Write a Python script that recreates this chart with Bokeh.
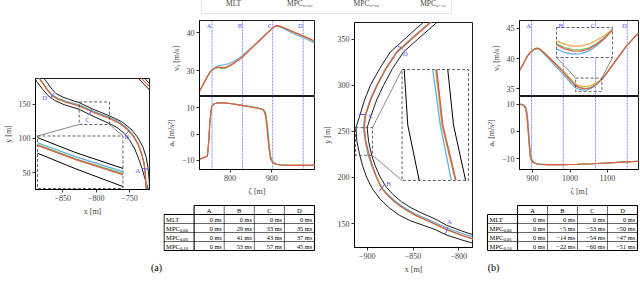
from bokeh.plotting import figure
from bokeh.layouts import row, column
from bokeh.models import Range1d, FixedTicker, Legend, LegendItem, Span
from bokeh.embed import file_html
from bokeh.resources import INLINE
from bokeh.core.properties import value

FONT = "Liberation Serif"
C_MLT, C_000, C_006, C_010 = "#5dade2", "#f5a442", "#5cc25c", "#e8574a"
COLORS = [C_MLT, C_000, C_006, C_010]
SERIES = ["MLT", "MPC₀.₀₀", "MPC₀.₀₆", "MPC₀.₁₀"]
MARK_C = "#5a5aff"
DASH_C = "#3a3a3a"
LETTERS = ["A", "B", "C", "D"]

# ---------------- panel (a): track (x, y in m) ----------------
UPPER1_X = [-882, -873, -866, -860, -851, -840, -825.5, -805, -780, -762, -748, -738, -730, -725, -722, -720.5, -719.5]
UPPER1_Y = [192, 180.5, 171, 165, 160.5, 156.5, 152, 142.6, 132.8, 124.5, 114, 102, 88, 73, 56, 40, 20]
LOWER1_X = [-896, -888, -880, -872, -862, -848, -825.5, -805, -780, -768, -758, -749, -742, -736, -731, -727, -723, -720]
LOWER1_Y = [192, 181, 171, 162, 155, 149, 142.3, 132.5, 121.5, 115.5, 107.5, 96.5, 84.5, 70, 56, 42, 30, 20]
RACE1_X = [-889, -880, -873, -866, -857, -845, -825.5, -805, -780, -765, -753, -744, -737, -732, -728, -726, -725]
RACE1_Y_MLT = [192, 180.8, 171, 163.2, 158.3, 154, 148.8, 140.0, 130.8, 123.6, 114.4, 104.3, 92.1, 78.8, 63.4, 45.2, 20]
RACE1_Y_000 = [192, 180.1, 170.1, 162.1, 157.1, 152.7, 147.4, 138.5, 129.2, 122.2, 113.2, 103.2, 91.2, 78.1, 63.1, 45, 20]
RACE1_Y_006 = [192, 180.1, 170.1, 162.1, 157.2, 152.8, 147.6, 138.6, 129.5, 122.3, 113.3, 103.2, 91.2, 78.1, 63.1, 45, 20]
RACE1_Y_010 = [192, 180, 170, 162, 157, 152.5, 147.1, 138.3, 129.0, 122, 113, 103, 91, 78, 63, 45, 20]
CORNER1_X = [[-740, -716], [-735.3, -711.3], [-730.6, -706.6]]
CORNER1_Y = [[190.4, 166.4], [190.4, 166.4], [190.4, 166.4]]
MARK1_X0 = [-731, -756, -810, -868.5]
MARK1_Y0 = [56.5, 106, 134.5, 158.5]
MARK1_X1 = [-722, -749, -806.5, -863.5]
MARK1_Y1 = [55.5, 113, 144, 165.5]
LBL1_X = [-737.5, -754, -812.7, -877]
LBL1_Y = [53.5, 102, 127.4, 158.6]

# ---------------- middle panel: track ----------------
OUTER3_X = [-825.5, -839, -857, -874.9, -886.5, -896.6, -903, -908.2, -912.4, -911.4, -908.2, -905, -900.5, -894, -886, -876, -865, -853, -840, -826, -813, -797, -782, -775]
OUTER3_Y = [380, 368, 352, 336, 318, 300, 284, 267, 254, 239, 224, 212, 199.5, 187, 176.5, 167, 159, 153, 148.5, 143.5, 137.4, 132.3, 128, 125.5]
INNER3_X = [-810.3, -824, -842.5, -860.4, -872.5, -882.2, -889.8, -895.9, -900.2, -898.6, -895.2, -891.5, -886.5, -880, -872, -862.5, -852, -841, -827, -813, -797, -782, -775]
INNER3_Y = [380, 368, 352, 336, 318, 300, 284, 267, 254, 239, 224, 213, 201.5, 190.5, 181.5, 173.5, 167, 161.5, 155.5, 148, 142, 137, 134.5]
RACE3_X_MLT = [-817.9, -831.6, -850.1, -868.2, -880.1, -889.9, -897.1, -902.7, -904.4, -902.3, -899.2, -895.3, -890.3, -884.2, -876.2, -867.1, -856.6, -845.7, -829.8, -812.9, -796.9, -782, -775]
RACE3_Y_MLT = [380, 368, 352, 336, 318, 300, 284, 267, 254, 239, 224, 213, 200.5, 188.9, 180.1, 172.3, 165.4, 159.6, 152.8, 145.1, 139.4, 134.8, 132.3]
RACE3_X_000 = [-817.2, -830.9, -849.4, -867.5, -879.4, -889.2, -896.5, -902.2, -903.6, -901.8, -898.1, -894.7, -890.1, -884.4, -876.6, -867.6, -857.1, -846.1, -830.1, -813.1, -797.1, -782.1, -775.1]
RACE3_Y_000 = [380, 368, 352, 336, 318, 300, 284, 267, 254, 239, 224, 213, 200.5, 188.4, 179.3, 171.3, 164.3, 158.2, 151.2, 143.2, 137.2, 132.2, 129.7]
RACE3_X_006 = [-817.25, -830.95, -849.45, -867.55, -879.45, -889.25, -896.5, -902.1, -903.45, -901.7, -898.0, -894.65, -890.05, -884.35, -876.55, -867.55, -857.05, -846.05, -830.05, -813.05, -797.05, -782.05, -775.05]
RACE3_Y_006 = [380, 368, 352, 336, 318, 300, 284, 267, 254, 239, 224, 213, 200.5, 188.45, 179.4, 171.4, 164.4, 158.35, 151.35, 143.35, 137.35, 132.35, 129.85]
RACE3_X_010 = [-817.3, -831, -849.5, -867.6, -879.5, -889.3, -896.5, -902, -903.3, -901.6, -897.9, -894.6, -890, -884.3, -876.5, -867.5, -857, -846, -830, -813, -797, -782, -775]
RACE3_Y_010 = [380, 368, 352, 336, 318, 300, 284, 267, 254, 239, 224, 213, 200.5, 188.5, 179.5, 171.5, 164.5, 158.5, 151.5, 143.5, 137.5, 132.5, 130]
MARK3_X0 = [-814.5, -887, -909.3, -867.6]
MARK3_Y0 = [139, 185, 268.3, 343.4]
MARK3_X1 = [-812, -881.5, -902, -861]
MARK3_Y1 = [146, 192, 268.3, 339]
LBL3_X = [-810, -876.7, -896, -858.6]
LBL3_Y = [151.5, 192.7, 267, 334.3]

# ---------------- panel (a): speed / lateral acceleration over zeta ----------------
ZETA_A_VX = [727, 735, 745, 752, 758, 765, 772, 780, 788, 796, 805, 815, 828, 845, 860, 875, 890, 900, 907, 913, 925, 940, 955, 970, 985, 1002]
VX_A_MLT = [24.6, 26.2, 28.3, 29.6, 30.3, 30.9, 31.3, 31.5, 31.6, 31.8, 32.2, 32.8, 33.8, 35.5, 37.0, 38.5, 40.0, 41.0, 41.6, 41.7, 41.2, 40.4, 39.6, 38.9, 38.2, 37.3]
VX_A_000 = [24.6, 26.2, 28.3, 29.6, 30.3, 30.8, 31.0, 30.9, 30.9, 31.3, 31.8, 32.5, 33.5, 35.3, 36.9, 38.5, 40.0, 41.1, 41.7, 41.9, 41.5, 40.8, 40.1, 39.4, 38.7, 37.8]
VX_A_006 = [24.6, 26.2, 28.3, 29.6, 30.3, 30.7, 30.8, 30.6, 30.6, 31.0, 31.6, 32.4, 33.4, 35.2, 36.8, 38.4, 40.0, 41.05, 41.65, 41.85, 41.45, 40.7, 40.0, 39.3, 38.6, 37.7]
VX_A_010 = [24.6, 26.2, 28.3, 29.6, 30.3, 30.7, 30.9, 30.75, 30.75, 31.1, 31.6, 32.4, 33.4, 35.2, 36.8, 38.4, 40.0, 41.05, 41.65, 41.85, 41.45, 40.75, 40.05, 39.35, 38.65, 37.75]
ZETA_A_AY = [727, 735, 742, 746, 749, 752, 756, 762, 770, 780, 800, 828, 850, 870, 880, 885, 889, 893, 897, 902, 910, 920, 940, 970, 1002]
AY_A_MLT = [-9.7, -9.2, -8.7, -8.3, -3.0, 5.0, 10.5, 11.6, 11.9, 12.0, 11.7, 11.1, 10.5, 9.9, 9.4, 8.2, 4.0, -3.0, -8.5, -10.6, -11.5, -11.8, -12.0, -12.0, -12.0]
AY_A_000 = [-9.7, -9.2, -8.7, -8.3, -3.0, 5.0, 10.5, 11.6, 11.9, 12.0, 11.7, 11.0, 10.4, 9.8, 9.2, 7.0, 1.5, -5.5, -9.6, -10.9, -11.6, -11.9, -12.0, -12.0, -12.0]
AY_A_006 = [-9.7, -9.2, -8.7, -8.3, -3.0, 5.0, 10.5, 11.6, 11.9, 12.0, 11.7, 11.05, 10.45, 9.85, 9.3, 7.8, 3.0, -4.0, -9.0, -10.8, -11.5, -11.8, -12.0, -12.0, -12.0]
AY_A_010 = [-9.7, -9.2, -8.7, -8.3, -3.0, 5.0, 10.5, 11.6, 11.9, 12.0, 11.7, 11.0, 10.4, 9.8, 9.2, 7.2, 1.8, -5.2, -9.5, -10.9, -11.6, -11.9, -12.0, -12.0, -12.0]
MARKS_A = [757, 830, 902, 975]

# ---------------- panel (b) ----------------
ZETA_B_VX = [865, 875, 885, 895, 905, 912, 920, 935, 950, 965, 980, 995, 1005, 1015, 1025, 1035, 1045, 1055, 1065, 1075, 1085, 1095, 1110, 1130, 1150, 1170, 1183]
VX_B_MLT = [38.0, 39.1, 40.3, 41.1, 41.5, 41.6, 41.4, 40.5, 39.5, 38.5, 37.5, 36.4, 35.7, 35.15, 34.88, 34.76, 34.78, 34.98, 35.37, 35.9, 36.55, 37.3, 38.6, 40.3, 42.0, 43.4, 44.2]
VX_B_000 = [38.0, 39.1, 40.3, 41.1, 41.6, 41.8, 41.6, 40.8, 39.9, 39.0, 38.1, 37.1, 36.4, 35.75, 35.5, 35.35, 35.35, 35.5, 35.8, 36.15, 36.6, 37.35, 38.6, 40.3, 42.0, 43.4, 44.2]
VX_B_006 = [38.0, 39.1, 40.3, 41.1, 41.55, 41.7, 41.5, 40.7, 39.8, 38.85, 37.9, 36.9, 36.2, 35.55, 35.25, 35.1, 35.08, 35.2, 35.55, 36.0, 36.58, 37.33, 38.6, 40.3, 42.0, 43.4, 44.2]
VX_B_010 = [38.0, 39.1, 40.3, 41.1, 41.55, 41.7, 41.5, 40.65, 39.75, 38.8, 37.85, 36.8, 36.1, 35.45, 35.15, 35.0, 34.98, 35.12, 35.48, 35.95, 36.57, 37.32, 38.6, 40.3, 42.0, 43.4, 44.2]
ZETA_B_AY = [865, 872, 878, 882, 885, 888, 891, 894, 898, 905, 915, 940, 980, 1020, 1060, 1100, 1140, 1183]
AY_B_MLT = [10.0, 9.9, 9.6, 9.0, 7.2, 3.5, -2.5, -7.5, -10.3, -11.4, -11.9, -12.1, -12.1, -12.0, -11.8, -11.5, -11.2, -10.9]
AY_B_000 = [10.0, 9.8, 9.3, 8.0, 5.0, 0.0, -5.5, -9.5, -11.0, -11.6, -12.0, -12.1, -12.1, -12.0, -11.8, -11.5, -11.2, -10.9]
AY_B_006 = [10.0, 9.85, 9.45, 8.5, 6.0, 1.5, -4.0, -8.5, -10.7, -11.5, -11.95, -12.1, -12.1, -12.0, -11.8, -11.5, -11.2, -10.9]
AY_B_010 = [10.0, 9.8, 9.35, 8.2, 5.4, 0.6, -5.0, -9.2, -10.9, -11.55, -12.0, -12.1, -12.1, -12.0, -11.8, -11.5, -11.2, -10.9]
MARKS_B = [897, 982, 1068, 1153]

# ---------------- tables (delay in ms) ----------------
ROW_NAMES = ["MLT", "MPC", "MPC", "MPC"]
ROW_SUBS = ["", "0.00", "0.06", "0.10"]
DELAY_A = [[0, 0, 0, 0], [0, 29, 33, 35], [0, 41, 43, 37], [0, 53, 57, 45]]
DELAY_B = [[0, 0, 0, 0], [0, -5, -53, -50], [0, -14, -54, -47], [0, -22, -60, -51]]

# ticks
XT1, YT1 = [-850, -800, -750], [50, 100, 150]
XT3, YT3 = [-900, -850, -800], [150, 200, 250, 300, 350]
XT_A, VT_A, AT = [800, 900], [30, 40], [-10, 0, 10]
XT_B, VT_B = [900, 1000, 1100], [35, 40, 45]


def fmt(v):
    return ("−" + str(abs(v))) if v < 0 else str(v)


def base_fig(w, h, xr, yr, bl, br, bt, bb, xaxis=True):
    p = figure(width=w, height=h, x_range=Range1d(*xr), y_range=Range1d(*yr),
               output_backend="svg", toolbar_location=None,
               min_border_left=bl, min_border_right=br, min_border_top=bt, min_border_bottom=bb,
               x_axis_location="below" if xaxis else None, y_axis_location="left")
    p.outline_line_color = "black"
    p.outline_line_width = 0.9
    p.outline_line_alpha = 1.0
    p.grid.visible = False
    p.background_fill_color = "white"
    p.border_fill_color = "white"
    for ax in p.axis:
        ax.axis_line_color = "black"
        ax.axis_line_width = 0.9
        ax.major_tick_in = 0
        ax.major_tick_out = 3
        ax.major_tick_line_width = 0.8
        ax.minor_tick_line_color = None
        ax.major_label_text_font = FONT
        ax.major_label_text_font_size = "8px"
        ax.major_label_standoff = 2
        ax.axis_label_text_font = FONT
        ax.axis_label_text_font_size = "8px"
        ax.axis_label_text_font_style = "normal"
        ax.axis_label_standoff = 3
    return p


def set_ticks(axis, ticks):
    axis.ticker = FixedTicker(ticks=ticks)
    axis.major_label_overrides = {t: fmt(t) for t in ticks}


def blank_fig(w, h, xr=(0, 1), yr=(0, 1)):
    p = figure(width=w, height=h, x_range=Range1d(*xr), y_range=Range1d(*yr),
               x_axis_type=None, y_axis_type=None, min_border=0,
               output_backend="svg", toolbar_location=None)
    p.outline_line_color = None
    p.background_fill_color = "white"
    p.border_fill_color = "white"
    return p


def in_box(xs, ys, box):
    x0, x1, y0, y1 = box
    pts = [(a, b) for a, b in zip(xs, ys) if x0 - 1e-6 <= a <= x1 + 1e-6 and y0 - 1e-6 <= b <= y1 + 1e-6]
    return [q[0] for q in pts], [q[1] for q in pts]


def add_inset(p, box, frac, lines, connect):
    x0, x1, y0, y1 = box
    fx0, fx1, fy0, fy1 = frac
    wx = (x1 - x0) / (fx1 - fx0)
    sx = x0 - fx0 * wx
    wy = (y1 - y0) / (fy1 - fy0)
    sy = y0 - fy0 * wy
    p.extra_x_ranges = {"ins": Range1d(sx, sx + wx)}
    p.extra_y_ranges = {"ins": Range1d(sy, sy + wy)}
    p.quad(left=[x0], right=[x1], bottom=[y0], top=[y1], x_range_name="ins", y_range_name="ins",
           fill_color="white", line_color=DASH_C, line_dash="3 2", line_width=0.8)
    for xs, ys, col, lw in lines:
        bx, by = in_box(xs, ys, box)
        p.line(bx, by, x_range_name="ins", y_range_name="ins", color=col, line_width=lw)
    p.quad(left=[x0], right=[x1], bottom=[y0], top=[y1], fill_color=None,
           line_color=DASH_C, line_dash="3 2", line_width=0.8)
    X, Y = p.x_range, p.y_range
    ix0 = X.start + fx0 * (X.end - X.start)
    ix1 = X.start + fx1 * (X.end - X.start)
    iy0 = Y.start + fy0 * (Y.end - Y.start)
    iy1 = Y.start + fy1 * (Y.end - Y.start)
    bc = {"bl": (x0, y0), "br": (x1, y0), "tl": (x0, y1), "tr": (x1, y1)}
    ic = {"bl": (ix0, iy0), "br": (ix1, iy0), "tl": (ix0, iy1), "tr": (ix1, iy1)}
    for b, i in connect:
        p.segment(x0=[bc[b][0]], y0=[bc[b][1]], x1=[ic[i][0]], y1=[ic[i][1]],
                  line_color="#555555", line_width=0.7)


def text_glyphs(p, xs, ys, texts, align="center", size="7px", color=MARK_C, baseline="middle", **kw):
    p.text(x=xs, y=ys, text=texts, text_align=align, text_baseline=baseline,
           text_font=value(FONT), text_font_size=value(size), text_color=color, **kw)


def add_marks(p, marks):
    for m in marks:
        p.add_layout(Span(location=m, dimension="height", line_color=MARK_C, line_alpha=0.8,
                          line_width=0.9, line_dash="2 1", level="underlay"))


# ============ legend strip ============
pl = blank_fig(639, 18)
leg_r = [pl.line(x=[], y=[], color=c, line_width=1.2) for c in COLORS]
legend = Legend(items=[LegendItem(label=s, renderers=[r]) for s, r in zip(SERIES, leg_r)],
                orientation="horizontal", location=(201, 4), padding=5, spacing=22, margin=0,
                glyph_width=14, glyph_height=9, label_height=9, label_standoff=5,
                label_text_font=FONT, label_text_font_size="7.5px",
                border_line_color="#cccccc", border_line_width=1,
                background_fill_color="white", background_fill_alpha=1.0)
pl.add_layout(legend)

# ============ column 1: panel (a) track ============
p1 = base_fig(163, 200, (-891, -720), (26, 187), 29, 14, 60, 26)
set_ticks(p1.xaxis, XT1)
set_ticks(p1.yaxis, YT1)
p1.xaxis.axis_label = "x [m]"
p1.yaxis.axis_label = "y [m]"
p1.line(CORNER1_X[0], CORNER1_Y[0], color="black", line_width=0.9)
p1.line(CORNER1_X[1], CORNER1_Y[1], color=C_000, line_width=1.1)
p1.line(CORNER1_X[1], CORNER1_Y[1], color=C_010, line_width=1.0)
p1.line(CORNER1_X[2], CORNER1_Y[2], color="black", line_width=0.9)
p1.line(UPPER1_X, UPPER1_Y, color="black", line_width=0.9)
p1.line(LOWER1_X, LOWER1_Y, color="black", line_width=0.9)
race1 = [RACE1_Y_MLT, RACE1_Y_000, RACE1_Y_006, RACE1_Y_010]
for ys, c in zip(race1, COLORS):
    p1.line(RACE1_X, ys, color=c, line_width=1.1)
p1.segment(x0=MARK1_X0, y0=MARK1_Y0, x1=MARK1_X1, y1=MARK1_Y1, line_color=MARK_C, line_width=1)
text_glyphs(p1, LBL1_X, LBL1_Y, LETTERS)
lines1 = [(UPPER1_X, UPPER1_Y, "black", 1.0), (LOWER1_X, LOWER1_Y, "black", 1.0)] + \
         [(RACE1_X, ys, c, 1.3) for ys, c in zip(race1, COLORS)]
add_inset(p1, (-825.5, -780, 120.3, 153), (0.017, 0.767, 0.009, 0.482), lines1,
          [("bl", "tl"), ("br", "tr")])

lbl1 = blank_fig(163, 70, (0, 163), (0, 70))
lbl1.text(x=[156], y=[21], text=["(a)"], text_align="center", text_baseline="middle",
          text_font=value(FONT), text_font_size=value("10px"))

# ============ column 2: panel (a) vx / ay / table ============
pva = base_fig(156, 78, (727, 1002), (23.2, 43.2), 30, 5, 2, 0, xaxis=False)
set_ticks(pva.yaxis, VT_A)
pva.yaxis.axis_label = "vₓ [m/s]"
add_marks(pva, MARKS_A)
for ys, c in zip([VX_A_MLT, VX_A_000, VX_A_006, VX_A_010], COLORS):
    pva.line(ZETA_A_VX, ys, color=c, line_width=1.1)
text_glyphs(pva, MARKS_A, [pva.y_range.end] * len(MARKS_A), LETTERS, align="right",
            size="6.5px", baseline="top", x_offset=-0.5, y_offset=1)

pay = base_fig(156, 102, (727, 1002), (-13.6, 14.4), 30, 5, 0, 25)
set_ticks(pay.xaxis, XT_A)
set_ticks(pay.yaxis, AT)
pay.xaxis.axis_label = "ζ [m]"
pay.yaxis.axis_label = "aᵧ [m/s²]"
add_marks(pay, MARKS_A)
for ys, c in zip([AY_A_MLT, AY_A_000, AY_A_006, AY_A_010], COLORS):
    pay.line(ZETA_A_AY, ys, color=c, line_width=1.1)


def table_fig(w, h, xr, yr, delays):
    p = blank_fig(w, h, xr, yr)
    nr, nc = len(ROW_NAMES), len(LETTERS)
    hy = [-(i + 2) for i in range(nr - 1)]
    p.segment(x0=[-1] * len(hy), y0=hy, x1=[nc] * len(hy), y1=hy, line_color="black", line_width=0.6)
    vx = list(range(1, nc))
    p.segment(x0=vx, y0=[0] * len(vx), x1=vx, y1=[-(nr + 1)] * len(vx), line_color="black", line_width=0.6)
    p.segment(x0=[0, -1, -1, nc, -1, 0], y0=[0, -1, -(nr + 1), 0, -1, 0],
              x1=[nc, nc, nc, nc, -1, 0], y1=[0, -1, -(nr + 1), -(nr + 1), -(nr + 1), -(nr + 1)],
              line_color="black", line_width=1.1)
    p.text(x=[j + 0.5 for j in range(nc)], y=[-0.5] * nc, text=LETTERS, text_align="center",
           text_baseline="middle", text_font=value(FONT), text_font_size=value("6.5px"))
    ry = [-(i + 1.5) for i in range(nr)]
    p.text(x=[-0.93] * nr, y=ry, text=ROW_NAMES, text_align="left", text_baseline="middle",
           text_font=value(FONT), text_font_size=value("6.5px"))
    p.text(x=[-0.93] * nr, y=ry, text=ROW_SUBS, text_align="left", text_baseline="middle",
           x_offset=13.8, y_offset=2, text_font=value(FONT), text_font_size=value("4.6px"))
    xs, ys, ts = [], [], []
    for i, r in enumerate(delays):
        for j, v in enumerate(r):
            xs.append(j + 0.92)
            ys.append(-(i + 1.5))
            ts.append(fmt(v) + " ms")
    p.text(x=xs, y=ys, text=ts, text_align="right", text_baseline="middle",
           text_font=value(FONT), text_font_size=value("6.3px"))
    return p


tab_a = table_fig(156, 90, (-1.017, 4.166), (-9.222, 0.778), DELAY_A)

# ============ column 3: middle track ============
p3 = base_fig(154, 270, (-914, -785), (124, 368), 35, 1, 4, 41)
set_ticks(p3.xaxis, XT3)
set_ticks(p3.yaxis, YT3)
p3.xaxis.axis_label = "x [m]"
p3.yaxis.axis_label = "y [m]"
p3.line(OUTER3_X, OUTER3_Y, color="black", line_width=0.9)
p3.line(INNER3_X, INNER3_Y, color="black", line_width=0.9)
race3 = [(RACE3_X_MLT, RACE3_Y_MLT), (RACE3_X_000, RACE3_Y_000), (RACE3_X_006, RACE3_Y_006), (RACE3_X_010, RACE3_Y_010)]
for (xs, ys), c in zip(race3, COLORS):
    p3.line(xs, ys, color=c, line_width=1.1)
p3.segment(x0=MARK3_X0, y0=MARK3_Y0, x1=MARK3_X1, y1=MARK3_Y1, line_color=MARK_C, line_width=1)
text_glyphs(p3, LBL3_X, LBL3_Y, LETTERS)
lines3 = [(OUTER3_X, OUTER3_Y, "black", 1.0), (INNER3_X, INNER3_Y, "black", 1.0)] + \
         [(xs, ys, c, 1.3) for (xs, ys), c in zip(race3, COLORS)]
add_inset(p3, (-913, -894.4, 224, 254), (0.403, 0.966, 0.298, 0.791), lines3,
          [("tr", "tl"), ("br", "bl")])

# ============ column 4: panel (b) ============
pvb = base_fig(166, 78, (865, 1183), (33.7, 46.3), 46, 1, 2, 0, xaxis=False)
set_ticks(pvb.yaxis, VT_B)
pvb.yaxis.axis_label = "vₓ [m/s]"
add_marks(pvb, MARKS_B)
vxb = [VX_B_MLT, VX_B_000, VX_B_006, VX_B_010]
for ys, c in zip(vxb, COLORS):
    pvb.line(ZETA_B_VX, ys, color=c, line_width=1.1)
add_inset(pvb, (1015, 1085, 34.5, 36.75), (0.311, 0.782, 0.513, 0.908),
          [(ZETA_B_VX, ys, c, 1.2) for ys, c in zip(vxb, COLORS)],
          [("tl", "bl"), ("tr", "br")])
text_glyphs(pvb, MARKS_B, [pvb.y_range.end] * len(MARKS_B), LETTERS, align="right",
            size="6.5px", baseline="top", x_offset=-0.5, y_offset=1)

pab = base_fig(166, 102, (865, 1183), (-13.9, 12.8), 46, 1, 0, 25)
set_ticks(pab.xaxis, XT_B)
set_ticks(pab.yaxis, AT)
pab.xaxis.axis_label = "ζ [m]"
pab.yaxis.axis_label = "aᵧ [m/s²]"
add_marks(pab, MARKS_B)
for ys, c in zip([AY_B_MLT, AY_B_000, AY_B_006, AY_B_010], COLORS):
    pab.line(ZETA_B_AY, ys, color=c, line_width=1.1)

tab_b = table_fig(166, 90, (-1.467, 4.067), (-9.222, 0.778), DELAY_B)
tab_b.text(x=[-1.467 + 20 / 30.0], y=[-9.222 + 21 / 9.0], text=["(b)"], text_align="center",
           text_baseline="middle", text_font=value(FONT), text_font_size=value("10px"))

root = column(pl, row(column(p1, row(lbl1)), column(pva, pay, row(tab_a)), column(p3),
                      column(pvb, pab, row(tab_b))))
open("out.html", "w").write(file_html(root, INLINE))
